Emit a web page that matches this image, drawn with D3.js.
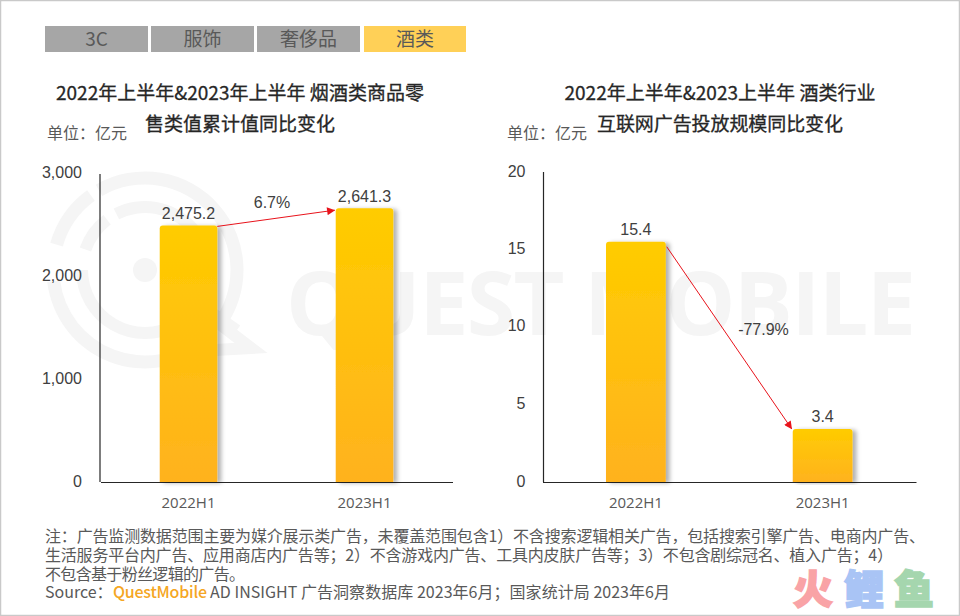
<!DOCTYPE html>
<html><head><meta charset="utf-8">
<script src="https://cdn.jsdelivr.net/npm/d3@7"></script>
<style>html,body{margin:0;padding:0;background:#fff}svg{display:block}text{font-family:"Noto Sans CJK SC","Open Sans",sans-serif}</style>
</head><body><div id="c"></div>
<script>
const tabs=["3C","服饰","奢侈品","酒类"];
const categories=["2022H1","2023H1"];
const retailValues=[2475.2,2641.3];
const adValues=[15.4,3.4];
const retailTicks=[0,1000,2000,3000];
const adTicks=[0,5,10,15,20];
const retailChange="6.7%";
const adChange="-77.9%";
const W=960,H=616;
const svg=d3.select("#c").append("svg").attr("width",W).attr("height",H);
const defs=svg.append("defs");
const g=defs.append("linearGradient").attr("id","bar").attr("x1",0).attr("x2",0).attr("y1",0).attr("y2",1);
g.append("stop").attr("offset",0).attr("stop-color","#ffcc00");
g.append("stop").attr("offset",1).attr("stop-color","#ffb21e");
const f=defs.append("filter").attr("id","sh").attr("x","-20%").attr("width","150%").attr("y","-5%").attr("height","110%");
f.append("feDropShadow").attr("dx",4).attr("dy",1).attr("stdDeviation",2).attr("flood-color","#000").attr("flood-opacity",.3);
const m=defs.append("marker").attr("id","arr").attr("viewBox","0 0 10 10").attr("refX",9.5).attr("refY",5).attr("markerWidth",9).attr("markerHeight",8).attr("markerUnits","userSpaceOnUse").attr("orient","auto");
m.append("path").attr("d","M0,0L10,5L0,10Z").attr("fill","#e8131b");

svg.append("rect").attr("x",.5).attr("y",.5).attr("width",W-1).attr("height",H-1).attr("fill","#fff").attr("stroke","#c9c9c9").attr("stroke-width",1.5);

// watermark
const wmColor="#f5f5f5";
const rad=a=>a*Math.PI/180;
const ring=(r,w,a0,a1)=>d3.arc().innerRadius(r-w/2).outerRadius(r+w/2).startAngle(rad(a0)).endAngle(rad(a1))();
const wm=svg.append("g").attr("transform","translate(145,270)").attr("fill",wmColor);
[[92,13,-30,128],[92,13,-74,-36],[92,13,139,263],[63,12,-27,120],[63,12,-71,-37],[63,12,150,270]].forEach(s=>wm.append("path").attr("d",ring(...s)));
wm.append("circle").attr("r",12);
wm.append("path").attr("fill","none").attr("stroke",wmColor).attr("stroke-width",12).attr("stroke-linejoin","miter")
  .attr("d","M72,52L106,78L70,80");
wm.append("path").attr("fill","none").attr("stroke",wmColor).attr("stroke-width",11).attr("d","M52,32L92,60");
svg.append("text").attr("x",286).attr("y",335).attr("font-size",88).attr("font-weight",700).attr("fill",wmColor).attr("textLength",630).style("font-family","'Open Sans'").text("QUEST MOBILE");

// tabs
const tabX=d3.scaleOrdinal().domain(tabs).range([45,151,257,364]);
const tabW=d3.scaleOrdinal().domain(tabs).range([103,103,103,102]);
tabs.forEach((t,i)=>{
 const on=i===3;
 svg.append("rect").attr("x",tabX(t)).attr("y",26).attr("width",tabW(t)).attr("height",26).attr("fill",on?"#ffd057":"#a6a6a6");
 svg.append("text").attr("x",tabX(t)+tabW(t)/2).attr("y",45.5).attr("text-anchor","middle").attr("font-size",19).attr("fill","#595959").text(t);
});

function title(lines,cx,widths){
 lines.forEach((l,i)=>svg.append("text").attr("x",cx).attr("y",100+i*31).attr("text-anchor","middle").attr("font-size",19).attr("fill","#262626").attr("stroke","#262626").attr("stroke-width",.3).attr("textLength",widths[i]).text(l));
}
title(["2022年上半年&2023年上半年 烟酒类商品零","售类值累计值同比变化"],240,[368,190]);
title(["2022年上半年&2023上半年 酒类行业","互联网广告投放规模同比变化"],720,[311,246]);
svg.append("text").attr("x",47).attr("y",139).attr("font-size",16).attr("fill","#595959").text("单位：亿元");
svg.append("text").attr("x",507).attr("y",139).attr("font-size",16).attr("fill","#595959").text("单位：亿元");

function chart(o){
 const x=d3.scaleBand().domain(categories).range([o.x0+o.shift,o.x1+o.shift]).paddingInner(o.pad).paddingOuter(o.pad/2);
 const y=d3.scaleLinear().domain([0,o.ticks[o.ticks.length-1]]).range([482,o.top]);
 const gg=svg.append("g");
 const ya=gg.append("g").attr("transform",`translate(${o.x0},0)`).call(d3.axisLeft(y).tickValues(o.ticks).tickSize(0).tickPadding(18).tickFormat(d3.format(",")));
 ya.select(".domain").remove();
 ya.selectAll("text").attr("font-size",16).attr("fill","#404040").style("font-family","'Liberation Sans'").attr("dy",d=>o.tickDy(d));
 gg.append("line").attr("x1",o.x0).attr("x2",o.x0).attr("y1",o.axisTop).attr("y2",482).attr("stroke","#262626").attr("stroke-width",1.2);
 const xa=gg.append("g").attr("transform","translate(0,482)").call(d3.axisBottom(x).tickSize(0).tickPadding(15));
 xa.select(".domain").attr("stroke","#262626").attr("stroke-width",1.2);
 xa.selectAll("text").attr("font-size",15).attr("fill","#595959").style("font-family","'Open Sans'");
 const bw=x.bandwidth();
 gg.selectAll("path.bar").data(o.vals).join("path").attr("class","bar")
  .attr("fill","url(#bar)").attr("filter","url(#sh)")
  .attr("d",(d,i)=>{const a=x(categories[i]),t=y(d),r=3;return `M${a},482V${t+r}Q${a},${t} ${a+r},${t}H${a+bw-r}Q${a+bw},${t} ${a+bw},${t+r}V482Z`;});
 gg.selectAll("text.val").data(o.vals).join("text").attr("class","val")
  .attr("x",(d,i)=>x(categories[i])+bw/2).attr("y",d=>y(d)-6.5).attr("text-anchor","middle")
  .attr("font-size",16).attr("fill","#404040").style("font-family","'Liberation Sans'").text(d=>d3.format(",.1f")(d));
 const p=o.arrow(x,y,bw);
 gg.append("line").attr("x1",p[0]).attr("y1",p[1]).attr("x2",p[2]).attr("y2",p[3]).attr("stroke","#e8131b").attr("stroke-width",1).attr("marker-end","url(#arr)");
 gg.append("text").attr("x",o.lx).attr("y",o.ly).attr("text-anchor","middle").attr("font-size",16).attr("fill","#404040").style("font-family","'Liberation Sans'").text(o.label);
}
chart({x0:100,x1:452,shift:.5,pad:.673,ticks:retailTicks,vals:retailValues,top:171,axisTop:174,
 tickDy:d=>({0:"0.28em",1000:"0.3em",2000:"0.38em",3000:"0.42em"})[d],
 arrow:(x,y,b)=>[x(categories[0])+b,y(retailValues[0])+1,x(categories[1])-1,y(retailValues[1])+2],
 lx:272,ly:208,label:retailChange});
chart({x0:543.5,x1:917,shift:-1,pad:.68,ticks:adTicks,vals:adValues,top:170,axisTop:172,
 tickDy:d=>({0:"0.25em",5:"0.3em",10:"0.3em",15:"0.35em",20:"0.42em"})[d],
 arrow:(x,y,b)=>[x(categories[0])+b+1,y(adValues[0])+5,x(categories[1])-1,y(adValues[1])],
 lx:763.5,ly:335,label:adChange});

// footnote
const noteLines=["注：广告监测数据范围主要为媒介展示类广告，未覆盖范围包含1）不含搜索逻辑相关广告，包括搜索引擎广告、电商内广告、","生活服务平台内广告、应用商店内广告等；2）不含游戏内广告、工具内皮肤广告等；3）不包含剧综冠名、植入广告；4）","不包含基于粉丝逻辑的广告。"];
const noteWidths=[880,848,200];
noteLines.forEach((l,i)=>svg.append("text").attr("x",45).attr("y",542+i*19).attr("font-size",16).attr("textLength",noteWidths[i]).attr("fill","#595959").text(l));
const src=svg.append("text").attr("y",598).attr("font-size",16).attr("fill","#595959");
src.append("tspan").attr("x",45).text("Source：");
src.append("tspan").attr("x",113).attr("fill","#f5a623").attr("font-weight",500).attr("textLength",94).text("QuestMobile");
src.append("tspan").attr("x",210).attr("textLength",460).text("AD INSIGHT 广告洞察数据库 2023年6月；国家统计局 2023年6月");

// brand mark
const brand=[["火","#f9a3a6",813],["鲤","#a9c4f5",864],["鱼","#a5d6ae",914]];
brand.forEach(b=>svg.append("text").attr("x",b[2]).attr("y",604).attr("text-anchor","middle").attr("font-size",40).attr("font-weight",900).attr("stroke",b[1]).attr("stroke-width",1.6).attr("fill",b[1]).text(b[0]));
</script></body></html>
